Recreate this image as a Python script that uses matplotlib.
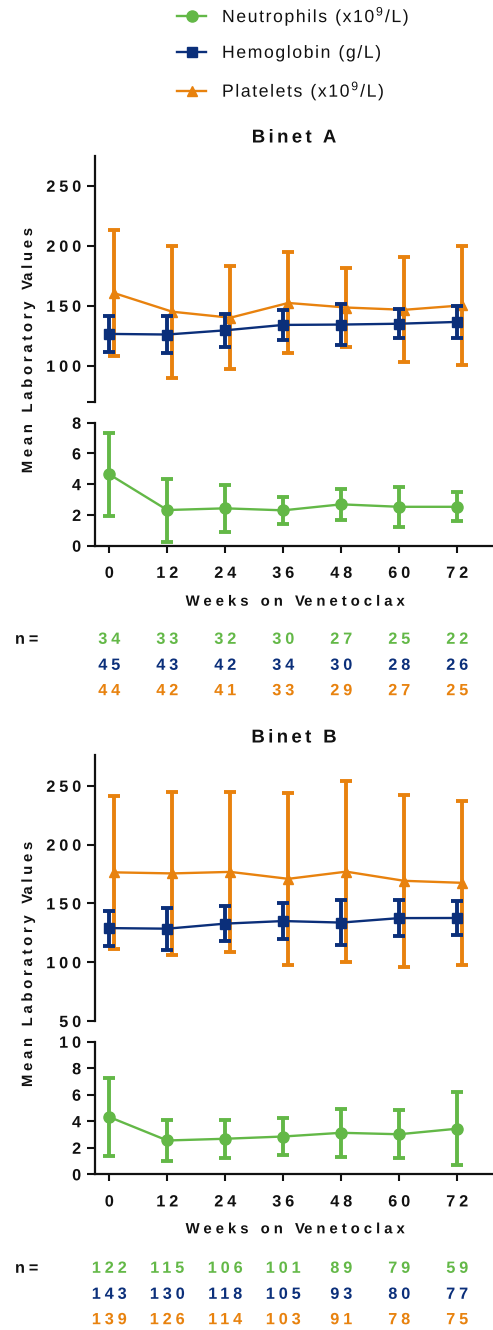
import numpy as np
import matplotlib
matplotlib.use("Agg")
import matplotlib.pyplot as plt
from matplotlib.path import Path
from matplotlib.patheffects import AbstractPathEffect
from matplotlib.transforms import offset_copy, blended_transform_factory

plt.rcParams["font.family"] = ["Liberation Sans", "DejaVu Sans"]
plt.rcParams["mathtext.default"] = "regular"

# ---------------------------------------------------------------- data
weeks = [0, 12, 24, 36, 48, 60, 72]

# Binet A
a_neut_mean = [4.64, 2.32, 2.43, 2.30, 2.69, 2.53, 2.53]
a_neut_sd = [2.70, 2.05, 1.55, 0.90, 1.00, 1.30, 0.95]
a_hgb_mean = [126.5, 126.0, 129.5, 134.0, 134.3, 135.0, 136.5]
a_hgb_sd = [14.8, 15.7, 13.6, 12.5, 17.1, 12.1, 13.0]
a_plt_mean = [160.5, 145.0, 140.0, 152.3, 148.5, 146.6, 150.3]
a_plt_sd = [52.4, 54.9, 42.8, 42.1, 33.0, 43.8, 49.6]
a_n_neut = [34, 33, 32, 30, 27, 25, 22]
a_n_hgb = [45, 43, 42, 34, 30, 28, 26]
a_n_plt = [44, 42, 41, 33, 29, 27, 25]

# Binet B
b_neut_mean = [4.32, 2.55, 2.68, 2.85, 3.13, 3.02, 3.44]
b_neut_sd = [2.93, 1.58, 1.43, 1.43, 1.80, 1.82, 2.76]
b_hgb_mean = [129.0, 128.5, 132.8, 135.0, 133.7, 137.5, 137.6]
b_hgb_sd = [14.8, 18.0, 14.6, 15.2, 19.0, 15.2, 14.8]
b_plt_mean = [176.4, 175.5, 176.8, 170.9, 177.0, 169.2, 167.5]
b_plt_sd = [64.9, 69.5, 68.0, 73.3, 76.8, 73.0, 70.0]
b_n_neut = [122, 115, 106, 101, 89, 79, 59]
b_n_hgb = [143, 130, 118, 105, 93, 80, 77]
b_n_plt = [139, 126, 114, 103, 91, 78, 75]

series_labels = ["Neutrophils (x10$^{9}$/L)", "Hemoglobin (g/L)", "Platelets (x10$^{9}$/L)"]
x_ticks = [0, 12, 24, 36, 48, 60, 72]

# ---------------------------------------------------------------- style
GREEN = "#63b847"
NAVY = "#0b2f7a"
ORANGE = "#e8820e"
INK = "#111111"


class Tracking(AbstractPathEffect):
    """Letter-spaced text: pushes glyphs apart by a fraction of the em."""

    def __init__(self, track=0.2, anchor=0.5, words=False):
        super().__init__()
        self.track = track * 100.0       # glyph outlines come at a 100-unit em
        self.anchor = anchor             # 0 left, 0.5 centre, 1 right
        self.words = words

    def draw_path(self, renderer, gc, tpath, affine, rgbFace=None):
        verts = np.array(tpath.vertices, dtype=float)
        codes = tpath.codes
        if codes is None or len(verts) == 0:
            return
        codes = np.asarray(codes)
        starts = list(np.nonzero(codes == Path.MOVETO)[0]) + [len(codes)]
        groups = []
        for s, e in zip(starts[:-1], starts[1:]):
            keep = codes[s:e] != Path.CLOSEPOLY
            xs = verts[s:e, 0][keep]
            if len(xs) == 0:
                continue
            lo, hi = xs.min(), xs.max()
            if groups and lo < groups[-1][3] - 1e-6 and hi > groups[-1][2] + 1e-6:
                g = groups[-1]
                g[1], g[2], g[3] = e, min(g[2], lo), max(g[3], hi)
            else:
                groups.append([s, e, lo, hi])
        shift, prev_hi, shifts = 0.0, None, []
        for g in groups:
            if prev_hi is not None:
                shift += self.track
                if self.words and g[2] - prev_hi > 25:
                    shift += self.track
            shifts.append(shift)
            prev_hi = g[3]
        for g, sh in zip(groups, shifts):
            verts[g[0]:g[1], 0] += sh - self.anchor * shift
        renderer.draw_path(gc, Path(verts, codes), affine, rgbFace)


W, H = 493, 1330
fig = plt.figure(figsize=(W / 100, H / 100), dpi=100)


def fx(px):
    return px / W


def fy(py):
    return 1 - py / H


AX_LEFT = 95
XLIM = (-2.96, 79.4)
TICK_LABEL_SIZE = 11.7
NUM_TRACK = 0.24
EB = dict(capsize=4.3, capthick=2.8, elinewidth=2.8, lw=1.7)


def style_axis(ax):
    for s in ("top", "right"):
        ax.spines[s].set_visible(False)
    for s in ("left", "bottom"):
        ax.spines[s].set_linewidth(1.6)
        ax.spines[s].set_color(INK)
    ax.tick_params(axis="y", direction="out", length=6, width=1.5, pad=4,
                   labelsize=TICK_LABEL_SIZE, colors=INK)
    ax.tick_params(axis="x", direction="out", length=5, width=1.5, pad=9.5,
                   labelsize=TICK_LABEL_SIZE, colors=INK)
    for lab in ax.get_yticklabels():
        lab.set_fontweight("bold")
        lab.set_path_effects([Tracking(NUM_TRACK, anchor=1.0)])
    for lab in ax.get_xticklabels():
        lab.set_fontweight("bold")
        lab.set_path_effects([Tracking(NUM_TRACK, anchor=0.5)])
    ax.set_xlim(*XLIM)
    ax.patch.set_alpha(0)


def panel(top_u, bot_u, top_l, bot_l, ylim_u, ticks_u, labels_u, ylim_l, ticks_l,
          neut_m, neut_sd, hgb_m, hgb_sd, plt_m, plt_sd,
          title, title_y, xlabel_y, n_rows, n_ys):
    width = (W - AX_LEFT) / W
    ax_u = fig.add_axes([fx(AX_LEFT), fy(bot_u), width, fy(top_u) - fy(bot_u)])
    ax_l = fig.add_axes([fx(AX_LEFT), fy(bot_l), width, fy(top_l) - fy(bot_l)])

    # upper segment: platelets and hemoglobin
    plt_shift = offset_copy(ax_u.transData, fig=fig, x=3.6, units="points")
    e_plt = ax_u.errorbar(weeks, plt_m, yerr=plt_sd, color=ORANGE, marker="^", ms=7,
                          transform=plt_shift, zorder=2, clip_on=False, **EB)
    e_hgb = ax_u.errorbar(weeks, hgb_m, yerr=hgb_sd, color=NAVY, marker="s", ms=7.5,
                          zorder=3, clip_on=False, **EB)
    ax_u.set_ylim(*ylim_u)
    ax_u.set_yticks(ticks_u)
    ax_u.set_yticklabels(labels_u)
    ax_u.set_xticks([])
    style_axis(ax_u)
    ax_u.spines["bottom"].set_visible(False)

    # lower segment: neutrophils
    e_neut = ax_l.errorbar(weeks, neut_m, yerr=neut_sd, color=GREEN, marker="o", ms=8,
                           zorder=3, clip_on=False, **EB)
    ax_l.set_ylim(*ylim_l)
    ax_l.set_yticks(ticks_l)
    ax_l.set_xticks(x_ticks)
    style_axis(ax_l)

    fig.text(fx((AX_LEFT + W) / 2), fy(title_y), title, ha="center", va="center",
             fontsize=13.4, fontweight="bold", color=INK,
             path_effects=[Tracking(0.18, 0.5, words=True)])
    fig.text(fx(295), fy(xlabel_y), "Weeks on Venetoclax", ha="center", va="center",
             fontsize=10.7, fontweight="bold", color=INK,
             path_effects=[Tracking(0.27, 0.5, words=True)])
    fig.text(fx(28), fy((top_u + bot_l) / 2), "Mean Laboratory Values", rotation=90,
             ha="center", va="center", fontsize=10.7, fontweight="bold", color=INK,
             path_effects=[Tracking(0.25, 0.5, words=True)])

    # sample sizes under each time point
    tr = blended_transform_factory(ax_l.transData, fig.transFigure)
    fig.text(fx(15), fy(n_ys[0]), "n=", ha="left", va="center", fontsize=11.7,
             fontweight="bold", color=INK, path_effects=[Tracking(NUM_TRACK, 0.0)])
    for vals, yy, col in zip(n_rows, n_ys, (GREEN, NAVY, ORANGE)):
        for wk, v in zip(weeks, vals):
            fig.text(wk, fy(yy), str(v), transform=tr, ha="center", va="center",
                     fontsize=11.7, fontweight="bold", color=col,
                     path_effects=[Tracking(NUM_TRACK, 0.5)])
    return e_neut, e_hgb, e_plt


h_neut, h_hgb, h_plt = panel(
    156, 401.7, 422.7, 545.7, (70, 274.8), [70, 100, 150, 200, 250],
    ["", "100", "150", "200", "250"], (0, 8), [0, 2, 4, 6, 8],
    a_neut_mean, a_neut_sd, a_hgb_mean, a_hgb_sd, a_plt_mean, a_plt_sd,
    "Binet A", 138, 601.7, (a_n_neut, a_n_hgb, a_n_plt), (639.3, 665.3, 690.7))

panel(
    755, 1021, 1041.7, 1174.3, (50, 276.2), [50, 100, 150, 200, 250],
    ["50", "100", "150", "200", "250"], (0, 10), [0, 2, 4, 6, 8, 10],
    b_neut_mean, b_neut_sd, b_hgb_mean, b_hgb_sd, b_plt_mean, b_plt_sd,
    "Binet B", 738, 1229.3, (b_n_neut, b_n_hgb, b_n_plt), (1268.3, 1294.3, 1319.7))

leg = fig.legend([h_neut.lines[0], h_hgb.lines[0], h_plt.lines[0]], series_labels,
                 loc="upper left", bbox_to_anchor=(fx(177), fy(4)), frameon=False,
                 borderpad=0, borderaxespad=0, handlelength=1.65, handletextpad=0.9,
                 labelspacing=0.95, prop={"size": 12.7}, labelcolor=INK)
for t in leg.get_texts():
    t.set_path_effects([Tracking(0.09, 0.0, words=True)])

fig.savefig("out.png", dpi=100)
